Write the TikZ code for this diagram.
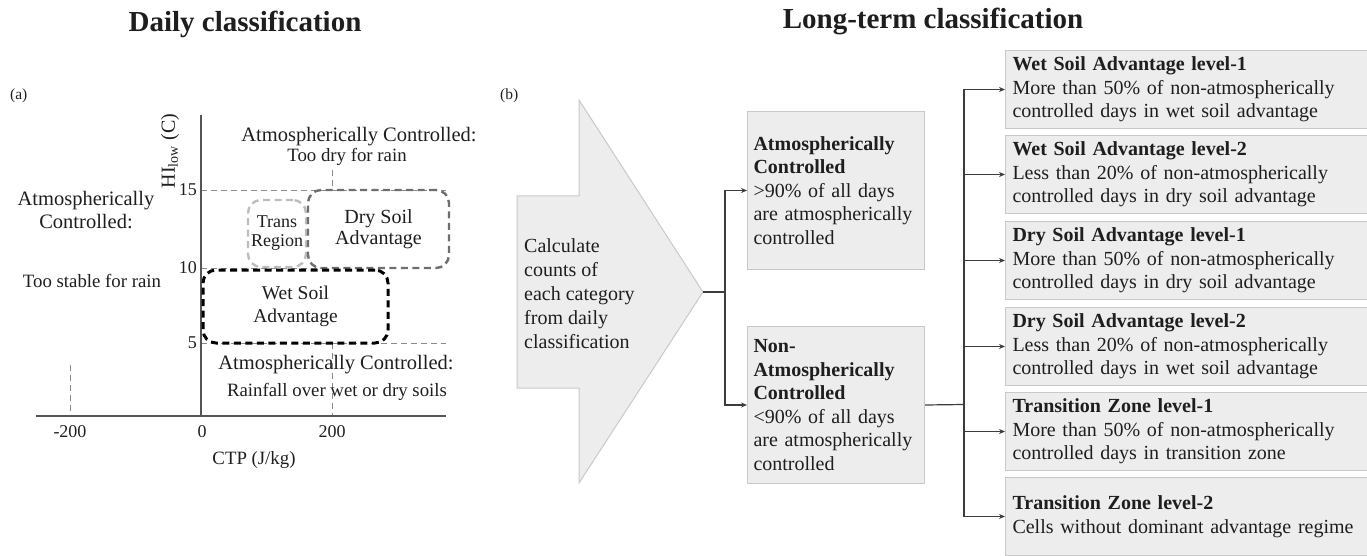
\documentclass[tikz,border=0pt]{standalone}
\usepackage{fontspec}
\setmainfont{Liberation Serif}
\usetikzlibrary{arrows.meta}
\definecolor{boxfill}{HTML}{EDEDED}
\definecolor{boxline}{HTML}{C9C9C9}
\definecolor{lineC}{HTML}{3C3C3C}
\definecolor{axisC}{HTML}{555555}
\definecolor{guideC}{HTML}{8A8A8A}
\definecolor{dryC}{HTML}{6E6E6E}
\definecolor{transC}{HTML}{BDBDBD}
\definecolor{txtC}{HTML}{1E1E1E}
\begin{document}
\begin{tikzpicture}[x=1pt,y=-1pt,
  every node/.style={text=txtC},
  title/.style={font=\fontsize{29}{32}\selectfont\bfseries, inner sep=0pt, anchor=base},
  panel/.style={font=\fontsize{15.5}{17}\selectfont, inner sep=0pt, anchor=base west},
  lab/.style={font=\fontsize{20.5}{23}\selectfont, inner sep=0pt, anchor=base},
  sublab/.style={font=\fontsize{18.8}{22}\selectfont, inner sep=0pt, anchor=base},
  ticklab/.style={font=\fontsize{18}{20}\selectfont, inner sep=0pt},
  axisline/.style={draw=axisC, line width=1.2pt},
  guide/.style={draw=guideC, line width=0.9pt, dash pattern=on 6pt off 4pt},
  region/.style={rectangle, rounded corners=13pt, align=center, inner sep=0pt,
    dash pattern=on 7pt off 4.5pt},
  bigarrow/.style={draw=boxline, fill=boxfill, line width=1pt},
  graybox/.style={draw=boxline, fill=boxfill, line width=1pt, anchor=north west,
    align=left, inner ysep=0pt, font=\fontsize{20}{23.6}\selectfont},
  midbox/.style={graybox, minimum width=177, text width=165, inner xsep=6pt},
  rbox/.style={graybox, minimum width=361.5, text width=347.5, inner xsep=7pt, minimum height=78},
  conn/.style={draw=lineC, line width=1.2pt},
  arr/.style={conn, -{Stealth[length=6pt,width=5pt]}}
]
\useasboundingbox (0,0) rectangle (1367,556);

% ---------- titles ----------
\node[title] (t1) at (245,32) {Daily classification};
\node[title] (t2) at (933,29) {Long-term classification};
\node[panel] (pa) at (10,100) {(a)};
\node[panel] (pb) at (500,100) {(b)};

% ---------- panel (a) ----------
\draw[guide] (201,190) -- (446,190);
\draw[guide] (201,268) -- (330,268);
\draw[guide] (201,343) -- (446,343);
\draw[guide] (332,170) -- (332,190);
\draw[guide] (332,343) -- (332,416);
\draw[guide] (70,365) -- (70,416);
\draw[axisline] (201,115) -- (201,416);
\draw[axisline] (36,416) -- (446,416);

\node[ticklab, anchor=base] (xm) at (70,437) {-200};
\node[ticklab, anchor=base] (x0) at (202,437) {0};
\node[ticklab, anchor=base] (x2) at (332,437) {200};
\node[ticklab, anchor=east] (y15) at (197,190) {15};
\node[ticklab, anchor=east] (y10) at (197,268) {10};
\node[ticklab, anchor=east] (y5) at (197,343) {5};
\node[sublab] (xl) at (254,464) {CTP (J/kg)};
\node[font=\fontsize{20}{22}\selectfont, inner sep=0pt, rotate=90] (yl) at (170,151) {HI$_{\mathrm{low}}$ (C)};

\node[region, draw=transC, line width=2.4pt, minimum width=58, minimum height=67,
  font=\fontsize{18}{19}\selectfont] (trans) at (277,233.5) {Trans\\Region};
\node[region, draw=dryC, line width=2.4pt, minimum width=141, minimum height=78,
  font=\fontsize{20}{21.5}\selectfont] (dry) at (378.5,229) {Dry Soil\\Advantage};
\node[region, draw=black, line width=3pt, minimum width=185, minimum height=73,
  font=\fontsize{19.5}{23}\selectfont] (wet) at (295.5,306.5) {Wet Soil\\Advantage};

\node[lab] (acT) at (359,142) {Atmospherically Controlled:};
\node[sublab] (acTs) at (347,162) {Too dry for rain};
\node[lab, align=center] (acL) at (86,228) {Atmospherically\\Controlled:};
\node[sublab] (acLs) at (92,287) {Too stable for rain};
\node[lab] (acB) at (336,369) {Atmospherically Controlled:};
\node[sublab] (acBs) at (337,396) {Rainfall over wet or dry soils};

% ---------- panel (b) ----------
\draw[bigarrow] (517,196) -- (579,196) -- (579,100) -- (703,292) -- (579,483)
  -- (579,388) -- (517,388) -- cycle;
\coordinate (tip) at (703,292);
\node[font=\fontsize{20}{24}\selectfont, inner sep=0pt, anchor=west, align=left]
  (calc) at (524,294) {Calculate\\counts of\\each category\\from daily\\classification};

\node[midbox, minimum height=158] (ac) at (747,111)
  {\textbf{Atmospherically}\\\textbf{Controlled}\\>90\% of all days\\are atmospherically\\controlled};
\node[midbox, minimum height=157] (nac) at (747,326)
  {\textbf{Non-}\\\textbf{Atmospherically}\\\textbf{Controlled}\\<90\% of all days\\are atmospherically\\controlled};

\node[rbox] (r1) at (1005,50) {\textbf{Wet Soil Advantage level-1}\\More than 50\% of non-atmospherically\\controlled days in wet soil advantage};
\node[rbox] (r2) at (1005,135) {\textbf{Wet Soil Advantage level-2}\\Less than 20\% of non-atmospherically\\controlled days in dry soil advantage};
\node[rbox] (r3) at (1005,221) {\textbf{Dry Soil Advantage level-1}\\More than 50\% of non-atmospherically\\controlled days in dry soil advantage};
\node[rbox] (r4) at (1005,307) {\textbf{Dry Soil Advantage level-2}\\Less than 20\% of non-atmospherically\\controlled days in wet soil advantage};
\node[rbox] (r5) at (1005,392) {\textbf{Transition Zone level-1}\\More than 50\% of non-atmospherically\\controlled days in transition zone};
\node[rbox] (r6) at (1005,477) {\textbf{Transition Zone level-2}\\Cells without dominant advantage regime};

\coordinate (j1) at (725,292);
\draw[conn] (tip) -- (j1);
\draw[arr] (j1) |- (ac.west);
\draw[arr] (j1) |- (nac.west);
\coordinate (j2) at (964,404.5);
\draw[conn] (nac.east) -- (j2);
\foreach \r in {r1,r2,r3,r4,r5,r6} \draw[arr] (j2) |- (\r.west);
\end{tikzpicture}
\end{document}
